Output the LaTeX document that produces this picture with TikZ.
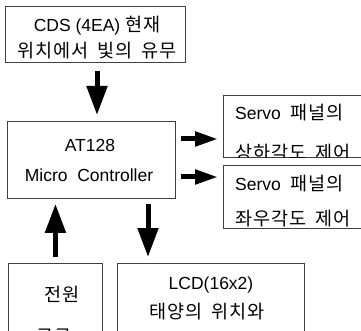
\documentclass[tikz,border=0pt]{standalone}
\usepackage{fontspec}
\setmainfont{Liberation Sans}
\newfontfamily\krfont[Scale=1.06, LetterSpace=5, WordSpace=1.8]{Noto Sans CJK KR}
\newcommand\kr[1]{{\krfont #1}}
\usetikzlibrary{arrows.meta, positioning}

\begin{document}
\begin{tikzpicture}[
    x=1pt, y=-1pt,
    box/.style={
        draw=black!75,
        line width=0.9pt,
        fill=white,
        inner sep=0pt,
        anchor=north west,
    },
    txt/.style={
        font=\fontsize{17.5}{20}\selectfont,
        inner sep=0pt,
        anchor=base,
    },
    vflow/.style={
        line width=5pt,
        -{Triangle[length=29pt, width=20pt]},
    },
    hflow/.style={
        line width=5pt,
        -{Triangle[length=23pt, width=14pt]},
    }
]
    \useasboundingbox (0,0) rectangle (361,331);
    \clip (0,0) rectangle (361,331);

    % Boxes
    \node[box, minimum width=180pt, minimum height=56pt] (cds) at (5,6) {};
    \node[box, minimum width=168pt, minimum height=77pt] (mc) at (7,121) {};
    \node[box, minimum width=150pt, minimum height=62pt] (sv1) at (223,95) {};
    \node[box, minimum width=94pt, minimum height=80pt] (pw) at (8,263) {};
    \node[box, minimum width=187pt, minimum height=80pt] (lcd) at (117,263) {};

    % Box texts
    \node[txt] (cdsA) at (97,32) {CDS\ (4EA)\ \kr{현재}};
    \node[txt] (cdsB) at (97,58) {\kr{위치에서 빛의 유무}};
    \node[txt] (mcA) at (90,152) {AT128};
    \node[txt] (mcB) at (89,182) {Micro\ \ Controller};
    \begin{scope}
        \clip (sv1.north west) rectangle (sv1.south east);
        \node[txt, anchor=base west] (svA) at (235,120) {Servo\ \ \kr{패널의}};
        \node[txt, anchor=base west] (svB) at (235,160) {\kr{상하각도 제어}};
    \end{scope}
    \node[box, minimum width=150pt, minimum height=63pt] (sv2) at (223,165) {};
    \node[txt, anchor=base west] (svC) at (235,190) {Servo\ \ \kr{패널의}};
    \node[txt, anchor=base west] (svD) at (235,225) {\kr{좌우각도 제어}};
    \node[txt] (pwA) at (62,301) {\kr{전원}};
    \node[txt] (pwB) at (54,343) {\kr{공급}};
    \node[txt] (lcdA) at (211,289) {LCD(16x2)};
    \node[txt] (lcdB) at (207,318) {\kr{태양의 위치와}};

    % Arrows
    \draw[vflow, shorten <=8pt, shorten >=6pt] (cds.south -| 97,0) -- (mc.north -| 97,0);
    \draw[hflow, shorten <=5pt, shorten >=5pt] (mc.east |- 0,139) -- (sv1.west |- 0,139);
    \draw[hflow, shorten <=5pt, shorten >=5pt] (mc.east |- 0,177) -- (sv2.west |- 0,177);
    \draw[vflow, shorten <=6pt, shorten >=5pt] (pw.north) -- (mc.south -| pw.north);
    \draw[vflow, shorten <=5pt, shorten >=6pt] (mc.south -| 148,0) -- (lcd.north -| 148,0);
\end{tikzpicture}
\end{document}
